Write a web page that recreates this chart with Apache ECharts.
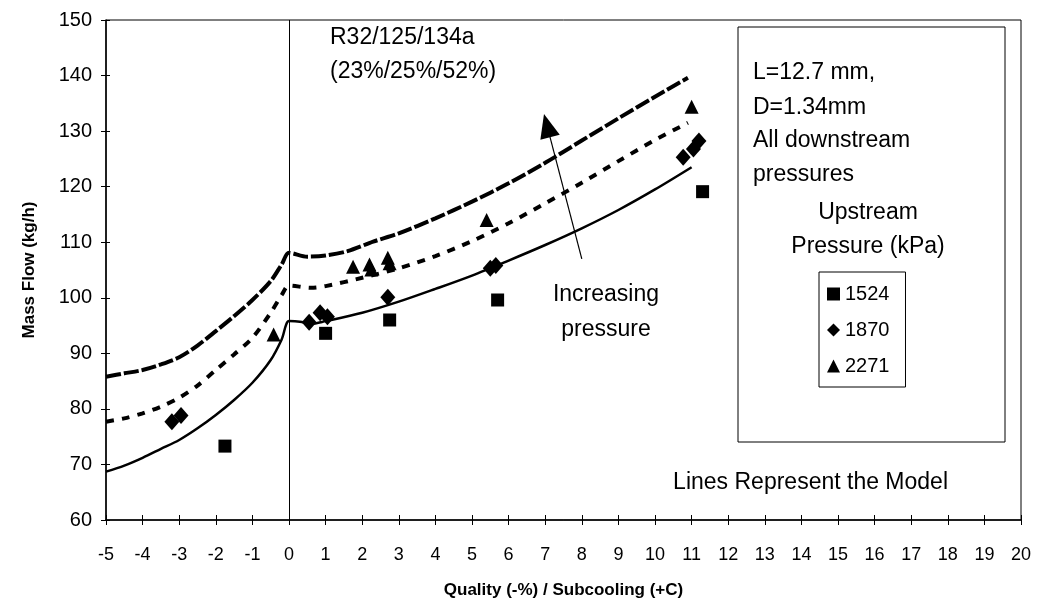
<!DOCTYPE html>
<html><head><meta charset="utf-8">
<script src="https://cdn.jsdelivr.net/npm/echarts/dist/echarts.min.js"></script>
<style>html,body{margin:0;padding:0;background:#fff}#c{width:1039px;height:612px}</style>
</head><body><div id="c"></div>
<script>
const FONT = '"Liberation Sans", Arial, sans-serif';

// Measured data (upstream pressure, kPa)
const seriesNames = ['1524', '1870', '2271'];
const pts1524 = [[-1.75, 73.3], [1.0, 93.6], [2.75, 96.0], [5.7, 99.6], [11.3, 119.1]];
const pts1870 = [[-3.2, 77.7], [-2.95, 78.8], [0.55, 95.6], [0.85, 97.3], [1.05, 96.6], [2.7, 100.1],
                 [5.5, 105.3], [5.65, 105.8], [10.77, 125.3], [11.05, 126.8], [11.2, 128.2]];
const pts2271 = [[-0.42, 93.4], [1.75, 105.6], [2.2, 106.0], [2.25, 105.1], [2.7, 107.2], [2.75, 106.2],
                 [5.4, 114.0], [11.0, 134.4]];

// Model lines
const model1524 = [[-5, 68.7], [-4.5, 69.8], [-4, 71.2], [-3.5, 72.8], [-3, 74.4], [-2.5, 76.5], [-2, 78.9],
                   [-1.5, 81.6], [-1, 84.7], [-0.5, 88.8], [-0.2, 92.5], [0, 95.8], [0.3, 95.7], [0.6, 95.3],
                   [1, 95.8], [2, 97.3], [3, 99.3], [4, 101.6], [5, 104.0], [6, 106.7], [7, 109.5],
                   [8, 112.5], [9, 115.8], [10, 119.5], [11, 123.5]];
const model1870 = [[-5, 77.7], [-4.5, 78.3], [-4, 79.2], [-3.5, 80.4], [-3, 82.0], [-2.5, 84.2], [-2, 87.0],
                   [-1.5, 89.8], [-1, 92.8], [-0.5, 97.3], [-0.2, 100.5], [0, 102.2], [0.6, 101.8],
                   [1, 102.1], [2, 103.6], [3, 105.3], [4, 107.5], [5, 110.2], [6, 113.4], [7, 117.0],
                   [8, 120.7], [9, 124.6], [10, 128.4], [10.9, 131.5]];
const model2271 = [[-5, 85.8], [-4.5, 86.4], [-4, 87.0], [-3.5, 88.0], [-3, 89.3], [-2.5, 91.4], [-2, 94.0],
                   [-1.5, 96.7], [-1, 99.6], [-0.5, 103.0], [-0.2, 106.0], [0, 108.1], [0.5, 107.4],
                   [1, 107.6], [1.6, 108.4], [2.3, 110.1], [3, 111.6], [4, 114.3], [5, 117.3], [6, 120.6],
                   [7, 124.3], [8, 128.3], [9, 132.3], [10, 136.2], [10.9, 139.6]];

// Arrow "Increasing pressure" (data coords: start, head)
const arrowFrom = [8.0, 107.0];
const arrowTo = [7.05, 131.0];

const chart = echarts.init(document.getElementById('c'), null, {renderer: 'canvas'});

const axisCommonX = {type: 'value', min: -5, max: 20, interval: 1, splitLine: {show: false}};
const axisCommonY = {type: 'value', min: 60, max: 150, interval: 10, splitLine: {show: false}};

const option = {
  animation: false,
  backgroundColor: '#fff',
  textStyle: {fontFamily: FONT, color: '#000'},
  grid: {left: 106, right: 18, top: 20, bottom: 92, show: true, borderColor: '#000', borderWidth: 1},
  xAxis: [
    Object.assign({}, axisCommonX, {
      position: 'bottom',
      axisLine: {onZero: false, lineStyle: {color: '#000', width: 1.5}},
      axisTick: {length: 5, lineStyle: {color: '#000'}},
      axisLabel: {fontSize: 18, color: '#000', margin: 26, fontFamily: FONT},
      name: 'Quality (-%) / Subcooling (+C)', nameLocation: 'middle', nameGap: 62,
      nameTextStyle: {fontSize: 17, fontWeight: 'bold', color: '#000', fontFamily: FONT}
    }),
    Object.assign({}, axisCommonX, {
      position: 'bottom',
      axisLine: {show: false, onZero: false},
      axisTick: {inside: true, length: 5, lineStyle: {color: '#000'}},
      axisLabel: {show: false}
    })
  ],
  yAxis: [
    Object.assign({}, axisCommonY, {
      position: 'left',
      axisLine: {onZero: false, lineStyle: {color: '#000', width: 1.5}},
      axisTick: {length: 5, lineStyle: {color: '#000'}},
      axisLabel: {fontSize: 20, color: '#000', margin: 14, fontFamily: FONT},
      name: 'Mass Flow (kg/h)', nameLocation: 'middle', nameGap: 68, nameRotate: 90,
      nameTextStyle: {fontSize: 17, fontWeight: 'bold', color: '#000', fontFamily: FONT}
    }),
    Object.assign({}, axisCommonY, {
      position: 'left',
      axisLine: {show: false, onZero: false},
      axisTick: {inside: true, length: 4, lineStyle: {color: '#000'}},
      axisLabel: {show: false}
    })
  ],
  legend: {
    data: seriesNames,
    orient: 'vertical',
    left: 819, top: 272,
    padding: [12, 16, 11, 8],
    itemGap: 16,
    itemWidth: 13, itemHeight: 13,
    borderColor: '#000', borderWidth: 1,
    textStyle: {fontSize: 20, color: '#000', fontFamily: FONT},
    selectedMode: false
  },
  series: [
    {
      name: 'model2271', type: 'line', data: model2271, symbol: 'none', smooth: 0.3,
      lineStyle: {color: '#000', width: 4, type: [15, 3]}, z: 2
    },
    {
      name: 'model1870', type: 'line', data: model1870, symbol: 'none', smooth: 0.3,
      lineStyle: {color: '#000', width: 4, type: [8, 8]}, z: 2
    },
    {
      name: 'model1524', type: 'line', data: model1524, symbol: 'none', smooth: 0.3,
      lineStyle: {color: '#000', width: 2.5}, z: 2
    },
    {
      name: 'annotations', type: 'line', data: [], symbol: 'none',
      markLine: {
        silent: true, animation: false,
        label: {show: false},
        emphasis: {disabled: true},
        data: [
          [{coord: [0, 60], symbol: 'none'}, {coord: [0, 150], symbol: 'none',
            lineStyle: {color: '#000', width: 1, type: 'solid'}}],
          [{coord: arrowFrom, symbol: 'none'}, {coord: arrowTo, symbol: 'triangle', symbolSize: [20, 24],
            lineStyle: {color: '#000', width: 1.2, type: 'solid'}}]
        ],
        lineStyle: {color: '#000', width: 1, type: 'solid'},
        itemStyle: {color: '#000', opacity: 1}
      }
    },
    {
      name: '1524', type: 'scatter', data: pts1524, symbol: 'rect', symbolSize: 13,
      itemStyle: {color: '#000', opacity: 1}, z: 5
    },
    {
      name: '1870', type: 'scatter', data: pts1870, symbol: 'diamond', symbolSize: [15, 17],
      itemStyle: {color: '#000', opacity: 1}, z: 5
    },
    {
      name: '2271', type: 'scatter', data: pts2271, symbol: 'triangle', symbolSize: 14,
      itemStyle: {color: '#000', opacity: 1}, z: 5
    }
  ],
  graphic: [
    {type: 'rect', shape: {x: 738, y: 27, width: 267, height: 415},
     style: {fill: 'none', stroke: '#000', lineWidth: 1}, z: 1},
    {type: 'text', x: 753, y: 73, style: {text: 'L=12.7 mm,', font: '23px ' + FONT, fill: '#000', verticalAlign: 'middle'}},
    {type: 'text', x: 753, y: 108, style: {text: 'D=1.34mm', font: '23px ' + FONT, fill: '#000', verticalAlign: 'middle'}},
    {type: 'text', x: 753, y: 141, style: {text: 'All downstream', font: '23px ' + FONT, fill: '#000', verticalAlign: 'middle'}},
    {type: 'text', x: 753, y: 175, style: {text: 'pressures', font: '23px ' + FONT, fill: '#000', verticalAlign: 'middle'}},
    {type: 'text', x: 868, y: 213, style: {text: 'Upstream', font: '23px ' + FONT, fill: '#000', align: 'center', verticalAlign: 'middle'}},
    {type: 'text', x: 868, y: 247, style: {text: 'Pressure (kPa)', font: '23px ' + FONT, fill: '#000', align: 'center', verticalAlign: 'middle'}},
    {type: 'text', x: 948, y: 483, style: {text: 'Lines Represent the Model', font: '23px ' + FONT, fill: '#000', align: 'right', verticalAlign: 'middle'}},
    {type: 'text', x: 330, y: 38, style: {text: 'R32/125/134a', font: '23px ' + FONT, fill: '#000', verticalAlign: 'middle'}},
    {type: 'text', x: 330, y: 72, style: {text: '(23%/25%/52%)', font: '23px ' + FONT, fill: '#000', verticalAlign: 'middle'}},
    {type: 'text', x: 606, y: 295, style: {text: 'Increasing', font: '23px ' + FONT, fill: '#000', align: 'center', verticalAlign: 'middle'}},
    {type: 'text', x: 606, y: 330, style: {text: 'pressure', font: '23px ' + FONT, fill: '#000', align: 'center', verticalAlign: 'middle'}}
  ]
};
chart.setOption(option);
</script>
</body></html>
